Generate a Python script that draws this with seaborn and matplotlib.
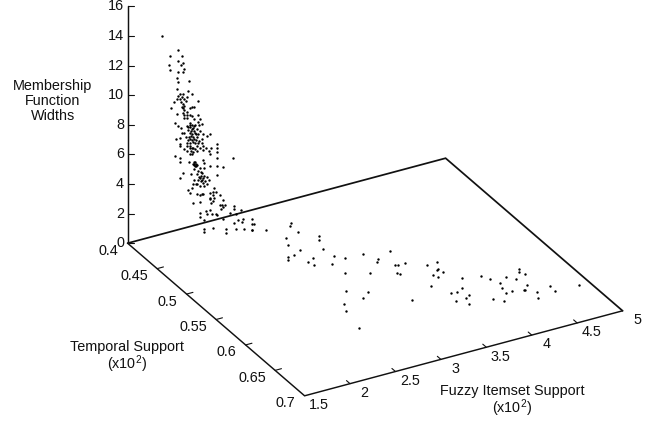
"""3D-style scatter of membership function widths, drawn on flat axes with an oblique projection."""
import matplotlib
matplotlib.use("Agg")
import matplotlib.pyplot as plt
import numpy as np
import pandas as pd
import seaborn as sns

# tall cluster near the back edge of the floor
cluster_fuzzy = [
    1.55, 1.73, 1.64, 1.77, 1.73, 1.79, 1.63, 1.76, 1.80, 1.64, 1.73, 1.78, 1.72, 1.73, 1.85, 1.72, 1.84, 1.75, 1.78, 1.88,
    1.73, 1.77, 1.83, 1.72, 1.75, 1.80, 1.69, 1.76, 1.82, 1.95, 1.78, 1.80, 1.65, 1.77, 1.79, 1.86, 1.88, 1.91, 1.80, 1.83,
    1.72, 1.79, 1.80, 1.83, 1.86, 1.88, 1.95, 1.80, 1.83, 1.91, 1.97, 1.70, 1.95, 1.99, 1.73, 1.76, 1.83, 1.86, 1.88, 1.92,
    1.96, 1.84, 1.86, 1.90, 1.94, 1.77, 1.80, 1.84, 1.87, 1.91, 1.97, 1.86, 1.88, 1.93, 2.00, 2.08, 2.05, 1.71, 1.75, 1.82,
    1.85, 1.89, 1.94, 1.99, 1.84, 1.88, 1.93, 1.96, 1.75, 1.83, 1.86, 1.92, 1.99, 2.16,
    1.75, 1.83, 1.86, 1.94, 1.80, 1.88, 1.90, 2.01, 2.04, 2.09, 2.16, 1.83, 1.87, 1.94, 2.00, 2.07, 2.08, 2.16, 1.86, 1.88,
    1.70, 1.75, 2.33, 1.85, 1.91, 1.92, 1.93, 1.91, 1.92, 1.94, 2.00, 2.02, 1.75, 2.16, 2.16, 2.22, 2.08, 1.97, 2.02, 1.95,
    1.87, 1.78, 1.94, 1.99, 2.02, 1.96, 1.97, 2.01, 2.05, 2.16, 1.75, 2.07, 1.91, 1.98, 1.89, 1.94, 2.01, 2.02, 1.88, 1.84,
    1.86, 1.97, 2.13, 2.11, 2.08, 2.15, 1.94, 1.99, 2.01, 1.91, 1.90, 1.93,
    1.97, 2.08, 2.12, 2.19, 2.08, 2.11, 2.13, 2.23, 2.09, 1.90, 1.97, 2.21, 2.19, 2.25, 2.22, 2.20, 2.35, 2.35, 1.97, 2.04,
    2.08, 2.05, 2.10, 2.15, 2.16, 2.30, 2.37, 2.42, 1.97, 2.02, 2.22, 2.45, 2.39, 2.35, 2.54, 2.43, 2.54, 2.57, 2.02, 2.02,
    2.11, 2.26, 2.26, 2.37, 2.46, 2.54, 2.55, 2.70,
    1.86, 1.91, 1.88, 1.92, 1.87, 1.91, 1.86, 1.95, 1.90, 1.95, 1.86, 1.92, 1.97, 1.90, 1.98, 1.99, 1.95, 2.03, 1.91, 1.98,
    1.93, 2.05,
]
cluster_width = [
    15.67, 14.42, 14.15, 13.93, 13.65, 13.44, 13.57, 13.33, 12.97, 13.18, 12.91, 12.82, 12.54, 12.23, 12.08, 11.75, 11.42, 11.36, 11.31, 11.16,
    11.26, 11.18, 11.06, 11.08, 11.02, 10.96, 10.94, 10.83, 10.80, 10.56, 10.66, 10.53, 10.63, 10.45, 10.35, 10.29, 10.27, 10.22, 10.22, 10.05,
    10.09, 10.02, 9.87, 9.86, 9.78, 9.68, 9.65, 9.68, 9.63, 9.42, 9.31, 9.51, 9.17, 9.00, 9.26, 9.10, 9.10, 9.22, 9.10, 9.03,
    8.93, 8.99, 8.95, 8.85, 8.74, 8.70, 8.65, 8.81, 8.67, 8.60, 8.56, 8.56, 8.46, 8.39, 8.27, 8.15, 8.05, 8.44, 8.43, 8.39,
    8.30, 8.27, 8.15, 7.97, 8.13, 8.06, 7.99, 7.89, 8.01, 7.98, 7.92, 7.77, 7.71, 7.34,
    7.89, 7.76, 7.71, 7.59, 7.58, 7.55, 7.47, 7.43, 7.29, 7.20, 7.08, 7.40, 7.34, 7.22, 7.17, 7.02, 6.82, 6.81, 7.18, 7.14,
    7.26, 7.09, 6.13, 6.66, 6.51, 6.49, 6.39, 6.33, 6.22, 6.27, 6.49, 6.29, 6.81, 6.41, 5.87, 5.68, 6.01, 6.01, 5.92, 5.86,
    5.76, 6.00, 5.65, 5.65, 5.39, 5.44, 5.32, 5.26, 5.29, 5.24, 5.70, 5.08, 5.29, 5.13, 5.10, 5.01, 4.95, 4.70, 4.84, 4.75,
    4.49, 4.83, 4.40, 4.19, 4.17, 4.13, 4.35, 4.26, 4.23, 6.41, 6.44, 6.25,
    4.19, 3.83, 3.94, 3.81, 3.74, 3.59, 3.73, 3.44, 3.44, 3.76, 3.73, 3.16, 3.20, 3.09, 3.00, 2.86, 2.84, 2.65, 3.00, 2.99,
    3.00, 2.78, 2.70, 2.63, 2.52, 2.48, 2.26, 2.45, 2.69, 2.43, 2.14, 1.77, 1.82, 1.67, 1.67, 1.63, 1.31, 1.25, 1.85, 1.65,
    1.74, 1.45, 1.14, 1.23, 1.08, 0.91, 0.88, 0.64,
    9.14, 8.97, 8.79, 8.49, 8.35, 8.11, 8.18, 8.36, 7.90, 7.73, 7.54, 7.39, 7.41, 7.20, 5.49, 5.20, 5.27, 5.05, 6.05, 5.72,
    5.04, 4.84,
]
cluster_temporal = 0.45

# long low tail across the floor
tail_fuzzy = [
    2.92, 2.89, 2.90, 3.04, 2.74, 3.00, 2.69, 2.74, 2.94, 2.64, 2.57, 2.54, 2.69, 2.77, 2.71, 2.97, 3.04, 2.87, 2.89, 3.23,
    3.10, 3.30, 3.26, 2.72, 2.90, 2.80, 2.58, 2.53, 2.47,
    3.49, 3.39, 3.42, 3.50, 3.33, 3.34, 3.66, 3.78, 3.72, 3.69, 3.73, 3.61, 3.63, 3.49, 3.19, 3.82, 3.73, 3.58, 3.64, 3.72,
    3.67, 3.55, 3.63, 4.01, 4.05, 4.10, 4.20, 4.07, 4.05, 3.89, 3.95, 4.12, 4.27, 4.39, 4.36, 4.39, 4.30, 4.23, 4.24, 4.32,
    4.27, 4.49, 4.48, 4.74,
]
tail_temporal = [
    0.458, 0.462, 0.474, 0.488, 0.478, 0.494, 0.489, 0.501, 0.510, 0.507, 0.507, 0.512, 0.522, 0.518, 0.530, 0.524, 0.531, 0.536, 0.555, 0.532,
    0.565, 0.547, 0.551, 0.582, 0.592, 0.598, 0.601, 0.611, 0.642,
    0.539, 0.563, 0.563, 0.563, 0.575, 0.578, 0.575, 0.574, 0.585, 0.587, 0.592, 0.592, 0.598, 0.608, 0.622, 0.609, 0.624, 0.627, 0.628, 0.637,
    0.640, 0.641, 0.651, 0.613, 0.621, 0.631, 0.625, 0.639, 0.649, 0.652, 0.660, 0.648, 0.632, 0.618, 0.623, 0.628, 0.645, 0.652, 0.652, 0.659,
    0.669, 0.656, 0.666, 0.666,
]
tail_width = 1.0

fuzzy_ticks = [1.5, 2, 2.5, 3, 3.5, 4, 4.5, 5]
temporal_ticks = [0.4, 0.45, 0.5, 0.55, 0.6, 0.65, 0.7]
width_ticks = [0, 2, 4, 6, 8, 10, 12, 14, 16]

# where the axes land in the picture
ORIGIN = np.array([127.6, 243.2])
FUZZY_VEC = np.array([318.0, -85.0])
TEMPORAL_VEC = np.array([177.0, 152.6])
WIDTH_PX = 14.8


def project(fuzzy, temporal, width=0.0):
    u = (np.asarray(fuzzy, dtype=float) - 1.5) / 3.5
    v = (np.asarray(temporal, dtype=float) - 0.4) / 0.3
    sx = ORIGIN[0] + u * FUZZY_VEC[0] + v * TEMPORAL_VEC[0]
    sy = ORIGIN[1] + u * FUZZY_VEC[1] + v * TEMPORAL_VEC[1] - np.asarray(width, dtype=float) * WIDTH_PX
    return sx, sy


sns.set_theme(style="white", rc={"mathtext.default": "regular"})
plt.rcParams["font.family"] = ["Liberation Sans", "DejaVu Sans"]

df = pd.DataFrame({
    "fuzzy": cluster_fuzzy + tail_fuzzy,
    "temporal": [cluster_temporal] * len(cluster_fuzzy) + tail_temporal,
    "width": cluster_width + [tail_width] * len(tail_fuzzy),
})
df["sx"], df["sy"] = project(df["fuzzy"], df["temporal"], df["width"])

fig = plt.figure(figsize=(6.51, 4.22), dpi=100, facecolor="white")
ax = fig.add_axes([0, 0, 1, 1])
ax.set_xlim(0, 651)
ax.set_ylim(422, 0)
ax.axis("off")

INK = "#111111"
FS = 10.4

# floor outline and vertical axis, back edges a bit heavier as in the print
bx, by = project([1.5, 5, 5], [0.4, 0.4, 0.7])
ax.plot(bx, by, color=INK, lw=1.25, solid_joinstyle="miter")
fx, fy = project([1.5, 1.5, 5], [0.4, 0.7, 0.7])
ax.plot(fx, fy, color=INK, lw=1.05, solid_joinstyle="miter")
zx, zy = project([1.5, 1.5], [0.4, 0.4], [0, 16])
ax.plot(zx, zy, color=INK, lw=1.05)

for w in width_ticks:
    x0, y0 = project(1.5, 0.4, w)
    ax.plot([x0, x0 + 6], [y0, y0], color=INK, lw=0.8)
    ax.text(x0 - 3.5, y0, str(w), ha="right", va="center", fontsize=FS, color=INK)

for t in temporal_ticks:
    x0, y0 = project(1.5, t)
    x1, y1 = project(1.57, t)
    if t not in (0.4, 0.7):
        ax.plot([x0, x1], [y0, y1], color=INK, lw=0.8)
    ax.text(x0 - 9, y0 + 7.5, str(t), ha="right", va="center", fontsize=FS, color=INK)

for f in fuzzy_ticks:
    x0, y0 = project(f, 0.7)
    x1, y1 = project(f, 0.694)
    if f not in (1.5, 5):
        ax.plot([x0, x1], [y0, y1], color=INK, lw=0.8)
    ax.text(x0 + 14.5, y0 + 9.3, str(f), ha="center", va="center", fontsize=FS, color=INK)

sns.scatterplot(data=df, x="sx", y="sy", ax=ax, color="black", s=3.0, linewidth=0, legend=False, zorder=3)

ax.text(53, 101, "Membership\nFunction\nWidths", ha="center", va="center", fontsize=FS, color=INK, linespacing=1.05)
ax.text(127, 347, "Temporal Support", ha="center", va="center", fontsize=FS, color=INK)
ax.text(127, 364, "(x10$^{2}$)", ha="center", va="center", fontsize=FS, color=INK)
ax.text(512, 391, "Fuzzy Itemset Support", ha="center", va="center", fontsize=FS, color=INK)
ax.text(512, 408, "(x10$^{2}$)", ha="center", va="center", fontsize=FS, color=INK)

fig.savefig("out.png", dpi=100, facecolor="white")
